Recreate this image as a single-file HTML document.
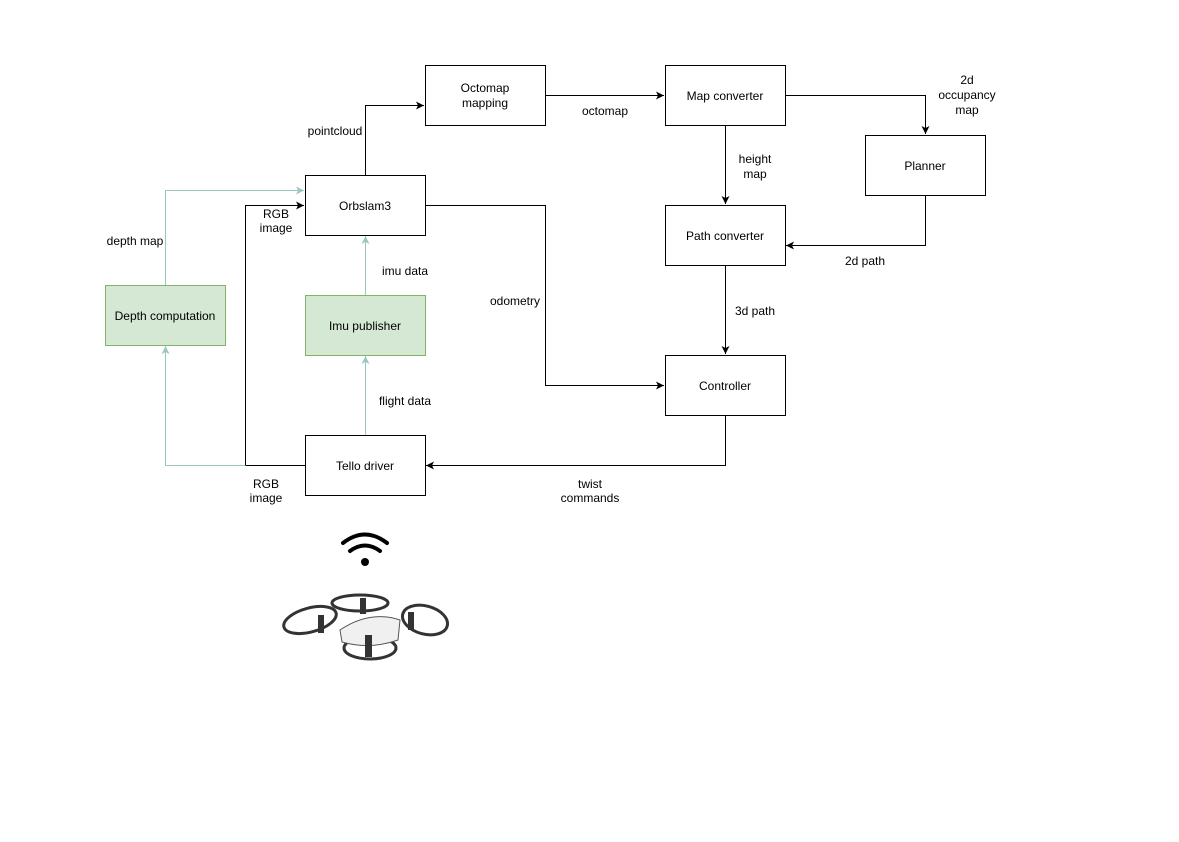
<!DOCTYPE html>
<html><head><style>
body{margin:0;background:#fff;}
svg text{font-family:"Liberation Sans",sans-serif;font-size:12px;fill:#000;}
</style></head><body>
<svg width="1179" height="837" viewBox="0 0 1179 837" xmlns="http://www.w3.org/2000/svg">
<defs>
<marker id="ab" markerWidth="10" markerHeight="10" refX="9" refY="5" orient="auto" markerUnits="userSpaceOnUse"><path d="M1,1 L9,5 L1,9 L3,5 Z" fill="#000"/></marker>
<marker id="at" markerWidth="10" markerHeight="10" refX="9" refY="5" orient="auto" markerUnits="userSpaceOnUse"><path d="M1,1 L9,5 L1,9 L3,5 Z" fill="#9ac7bf"/></marker>
</defs>
<g fill="#fff" stroke="#000" stroke-width="1">
<rect x="425.5" y="65.5" width="120" height="60"/>
<rect x="665.5" y="65.5" width="120" height="60"/>
<rect x="865.5" y="135.5" width="120" height="60"/>
<rect x="305.5" y="175.5" width="120" height="60"/>
<rect x="665.5" y="205.5" width="120" height="60"/>
<rect x="665.5" y="355.5" width="120" height="60"/>
<rect x="305.5" y="435.5" width="120" height="60"/>
</g>
<g fill="#d5e8d4" stroke="#82b366">
<rect x="105.5" y="285.5" width="120" height="60"/>
<rect x="305.5" y="295.5" width="120" height="60"/>
</g>
<g fill="none" stroke="#000">
<path d="M365.5,175 V105.5 H424" marker-end="url(#ab)"/>
<path d="M545,95.5 H664" marker-end="url(#ab)"/>
<path d="M785,95.5 H925.5 V134" marker-end="url(#ab)"/>
<path d="M725.5,125 V204" marker-end="url(#ab)"/>
<path d="M925.5,195 V245.5 H786" marker-end="url(#ab)"/>
<path d="M725.5,265 V354" marker-end="url(#ab)"/>
<path d="M425,205.5 H545.5 V385.5 H664" marker-end="url(#ab)"/>
<path d="M725.5,415 V465.5 H426" marker-end="url(#ab)"/>
<path d="M305,465.5 H245.5 V205.5 H304" marker-end="url(#ab)"/>
</g>
<g fill="none" stroke="#9ac7bf">
<path d="M245.5,465.5 H165.5 V346" marker-end="url(#at)"/>
<path d="M165.5,285 V190.5 H304" marker-end="url(#at)"/>
<path d="M365.5,295 V236" marker-end="url(#at)"/>
<path d="M365.5,435 V356" marker-end="url(#at)"/>
</g>
<g text-anchor="middle">
<text x="485" y="92">Octomap</text><text x="485" y="107">mapping</text>
<text x="725" y="100">Map converter</text>
<text x="925" y="170">Planner</text>
<text x="365" y="210">Orbslam3</text>
<text x="725" y="240">Path converter</text>
<text x="725" y="390">Controller</text>
<text x="365" y="470">Tello driver</text>
<text x="165" y="320">Depth computation</text>
<text x="365" y="330">Imu publisher</text>
<text x="335" y="135">pointcloud</text>
<text x="605" y="115">octomap</text>
<text x="967" y="84">2d</text><text x="967" y="99">occupancy</text><text x="967" y="114">map</text>
<text x="755" y="163">height</text><text x="755" y="178">map</text>
<text x="865" y="265">2d path</text>
<text x="755" y="315">3d path</text>
<text x="515" y="305">odometry</text>
<text x="590" y="488">twist</text><text x="590" y="502">commands</text>
<text x="276" y="218">RGB</text><text x="276" y="232">image</text>
<text x="266" y="488">RGB</text><text x="266" y="502">image</text>
<text x="135" y="245">depth map</text>
<text x="405" y="275">imu data</text>
<text x="405" y="405">flight data</text>
</g>
<!-- wifi -->
<g fill="none" stroke="#000" stroke-width="4" stroke-linecap="round">
<path d="M343,543 Q365,526 387,543"/>
<path d="M350,551 Q365,540 380,551"/>
</g>
<circle cx="365" cy="562" r="4" fill="#000"/>
<!-- drone -->
<g fill="none" stroke="#333" stroke-width="3">
<ellipse cx="310" cy="620" rx="27" ry="12" transform="rotate(-15 310 620)"/>
<ellipse cx="360" cy="603" rx="28" ry="8"/>
<ellipse cx="425" cy="620" rx="23" ry="14" transform="rotate(15 425 620)"/>
<ellipse cx="370" cy="648" rx="26" ry="11"/>
</g>
<path d="M340,630 Q370,610 400,620 L398,640 Q370,650 342,642 Z" fill="#f0f0f0" stroke="#555"/>
<g fill="#333">
<rect x="318" y="615" width="6" height="18"/>
<rect x="360" y="598" width="6" height="16"/>
<rect x="408" y="612" width="6" height="18"/>
<rect x="365" y="635" width="7" height="22"/>
</g>
</svg>
</body></html>
